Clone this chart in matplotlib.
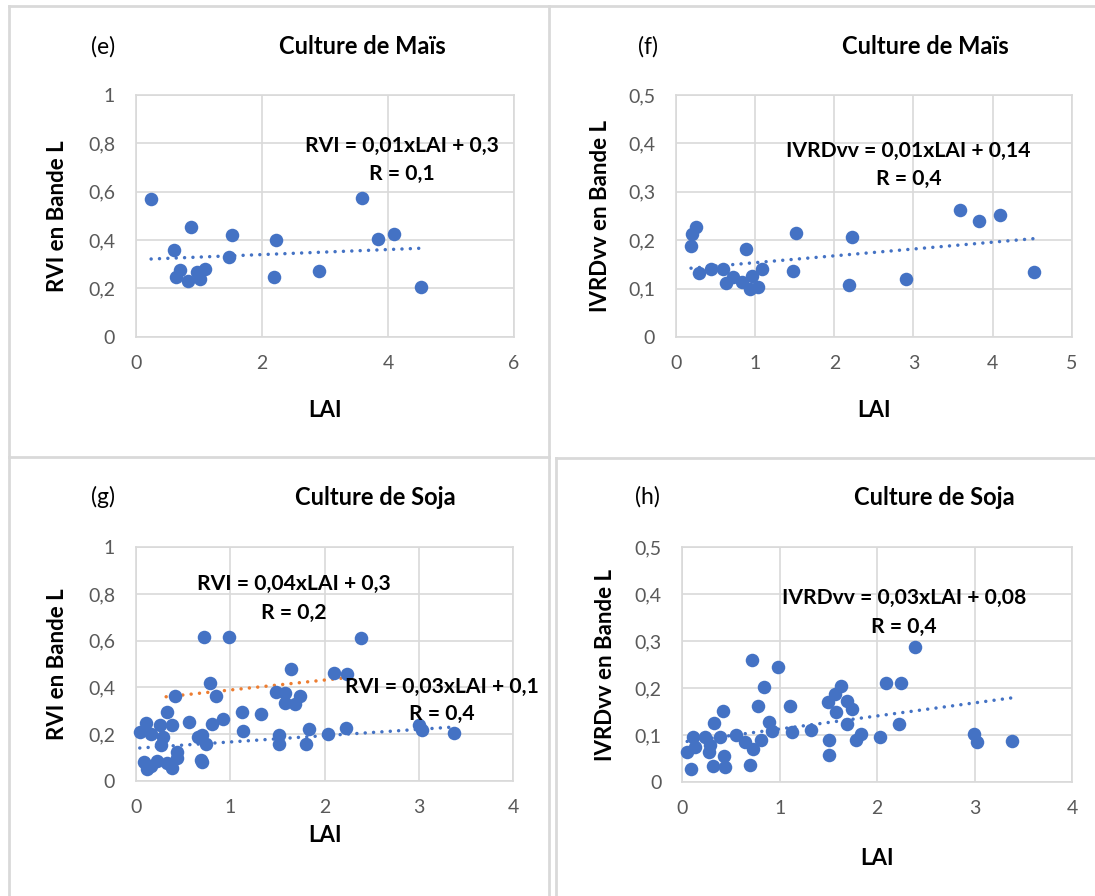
import matplotlib
matplotlib.use("Agg")
import matplotlib.pyplot as plt
from matplotlib.lines import Line2D
import numpy as np

plt.rcParams['font.family'] = ['Lato', 'DejaVu Sans']

W, H = 1095, 896

# ---- Maize (e, f) ----
e_lai = [0.24, 0.60, 0.63, 0.70, 0.82, 0.875, 0.97, 1.02, 1.10, 1.48, 1.53,
         2.19, 2.22, 2.91, 3.59, 3.84, 4.10, 4.53]
e_rvi = [0.570, 0.357, 0.247, 0.274, 0.229, 0.454, 0.268, 0.239, 0.279, 0.331,
         0.419, 0.247, 0.400, 0.272, 0.572, 0.406, 0.423, 0.204]

f_lai = [0.25, 0.20, 0.19, 0.29, 0.44, 0.60, 0.63, 0.716, 0.83, 0.885, 0.956,
         0.935, 1.03, 1.09, 1.52, 1.48, 2.22, 2.19, 2.90, 3.59, 3.83, 4.09, 4.52]
f_ivrd = [0.228, 0.213, 0.187, 0.132, 0.140, 0.141, 0.111, 0.123, 0.114, 0.182,
          0.125, 0.100, 0.103, 0.141, 0.214, 0.137, 0.206, 0.108, 0.120, 0.262,
          0.240, 0.252, 0.134]

# ---- Soybean (g, h) ----
g_lai = [0.72, 0.986, 2.39, 1.64, 2.10, 2.24, 0.78, 0.41, 0.845, 1.49, 1.58,
         1.74, 1.58, 1.69, 0.33, 1.12, 1.33, 0.565, 0.926, 0.81, 0.11, 0.04,
         0.155, 0.254, 0.378, 0.29, 0.27, 1.14, 0.66, 0.70, 0.74, 1.52, 1.52,
         1.84, 1.80, 2.035, 2.23, 3.00, 3.03, 3.37, 0.085, 0.12, 0.22, 0.33,
         0.378, 0.43, 0.43, 0.686, 0.70, 0.16]
g_rvi = [0.614, 0.614, 0.610, 0.477, 0.460, 0.456, 0.420, 0.364, 0.363, 0.381,
         0.377, 0.364, 0.334, 0.329, 0.296, 0.294, 0.284, 0.251, 0.266, 0.244,
         0.249, 0.210, 0.200, 0.239, 0.239, 0.186, 0.151, 0.214, 0.186, 0.194,
         0.157, 0.194, 0.157, 0.220, 0.159, 0.200, 0.227, 0.237, 0.217, 0.206,
         0.081, 0.049, 0.084, 0.074, 0.056, 0.096, 0.124, 0.089, 0.079, 0.065]

h_lai = [2.39, 0.715, 0.98, 2.09, 2.24, 0.835, 1.63, 1.57, 1.495, 1.69, 1.74,
         1.58, 1.69, 2.22, 0.773, 1.11, 0.414, 0.325, 0.89, 0.925, 1.13, 1.32,
         0.55, 1.83, 1.78, 2.03, 1.51, 1.505, 2.99, 3.03, 3.38, 0.113, 0.05,
         0.13, 0.23, 0.27, 0.285, 0.39, 0.43, 0.44, 0.32, 0.086, 0.70, 0.64,
         0.73, 0.81]
h_ivrd = [0.287, 0.260, 0.245, 0.211, 0.211, 0.203, 0.204, 0.187, 0.170, 0.172,
          0.156, 0.150, 0.123, 0.123, 0.163, 0.163, 0.152, 0.126, 0.128, 0.109,
          0.106, 0.111, 0.100, 0.103, 0.090, 0.097, 0.089, 0.058, 0.103, 0.086,
          0.088, 0.097, 0.065, 0.076, 0.097, 0.065, 0.079, 0.097, 0.055, 0.032,
          0.035, 0.028, 0.036, 0.085, 0.070, 0.089]

# linear trend coefficients (slope, intercept) and x extent
e_trend = (0.0104, 0.319)
f_trend = (0.0141, 0.1395)
g_trend = (0.027, 0.139)
g_trend_hi = (0.0426, 0.346)
g_trend_hi_range = [0.32, 2.34]
h_trend = (0.0278, 0.0856)

BLUE = '#4472C4'
ORANGE = '#ED7D31'
GRID = '#D9D9D9'
TICK = '#595959'

fig = plt.figure(figsize=(W / 100, H / 100), dpi=100)


def fx(px):
    return px / W


def fy(py):
    return 1 - py / H


def make_axes(x0, x1, y0, y1):
    return fig.add_axes([fx(x0), fy(y1), fx(x1) - fx(x0), fy(y0) - fy(y1)])


def comma(v, dec):
    if abs(v) < 1e-9:
        return '0'
    s = f'{v:.{dec}f}'.rstrip('0').rstrip('.')
    return s.replace('.', ',')


def style(ax, xmax, xstep, ymax, ystep, ydec, ylabel, ylab_x, xlab_y):
    ax.set_xlim(0, xmax)
    ax.set_ylim(0, ymax)
    xt = np.arange(0, xmax + 1e-9, xstep)
    yt = np.arange(0, ymax + 1e-9, ystep)
    ax.set_xticks(xt)
    ax.set_yticks(yt)
    ax.set_xticklabels([comma(v, 0) for v in xt])
    ax.set_yticklabels([comma(v, ydec) for v in yt])
    ax.tick_params(length=0, labelsize=14, colors=TICK, pad=13)
    ax.tick_params(axis='y', pad=15)
    ax.grid(True, color=GRID, lw=1.2)
    ax.set_axisbelow(True)
    for sp in ax.spines.values():
        sp.set_color(GRID)
        sp.set_linewidth(1.2)
    ax.set_ylabel(ylabel, fontsize=16, fontweight='bold')
    ax.yaxis.set_label_coords(ylab_x, 0.5)
    ax.set_xlabel('LAI', fontsize=16, fontweight='bold')
    ax.xaxis.set_label_coords(0.5, xlab_y)


def scatter(ax, x, y):
    ax.scatter(x, y, s=95, color=BLUE, zorder=3, linewidths=0, clip_on=False)


def trend(ax, coef, xs, color):
    xs = np.array([min(xs), max(xs)])
    ax.plot(xs, coef[0] * xs + coef[1], color=color, lw=2.5,
            linestyle=(0, (0.01, 2.4)), dash_capstyle='round', zorder=2)


def eq(px, py, txt):
    fig.text(fx(px), fy(py), txt, ha='center', va='center',
             fontsize=15.2, fontweight='bold')


# (e)
ax_e = make_axes(136, 514, 95, 336.7)
style(ax_e, 6, 2, 1.0, 0.2, 1, 'RVI en Bande L', -0.18, -0.262)
trend(ax_e, e_trend, e_lai, BLUE)
scatter(ax_e, e_lai, e_rvi)
eq(402, 146, 'RVI = 0,01xLAI + 0,3')
eq(402, 174, 'R = 0,1')

# (f)
ax_f = make_axes(676, 1071.7, 95, 337)
style(ax_f, 5, 1, 0.5, 0.1, 1, 'IVRDvv en Bande L', -0.165, -0.262)
trend(ax_f, f_trend, f_lai, BLUE)
scatter(ax_f, f_lai, f_ivrd)
eq(908, 151, 'IVRDvv = 0,01xLAI + 0,14')
eq(909, 179, 'R = 0,4')

# (g)
ax_g = make_axes(136, 513, 547.3, 780.7)
style(ax_g, 4, 1, 1.0, 0.2, 1, 'RVI en Bande L', -0.18, -0.19)
trend(ax_g, g_trend, g_lai, BLUE)
trend(ax_g, g_trend_hi, g_trend_hi_range, ORANGE)
scatter(ax_g, g_lai, g_rvi)
eq(294, 584, 'RVI = 0,04xLAI + 0,3')
eq(294, 613, 'R = 0,2')
eq(442, 687, 'RVI = 0,03xLAI + 0,1')
eq(442, 714, 'R = 0,4')

# (h)
ax_h = make_axes(682.3, 1072, 547.3, 782.3)
style(ax_h, 4, 1, 0.5, 0.1, 1, 'IVRDvv en Bande L', -0.171, -0.28)
trend(ax_h, h_trend, h_lai, BLUE)
scatter(ax_h, h_lai, h_ivrd)
eq(904, 598, 'IVRDvv = 0,03xLAI + 0,08')
eq(904, 627, 'R = 0,4')

# panel letters and titles
for px, py, s in [(103, 47, '(e)'), (648, 47, '(f)'),
                  (103, 497, '(g)'), (647, 497, '(h)')]:
    fig.text(fx(px), fy(py), s, ha='center', va='center', fontsize=16.5)
for px, py, s in [(362, 47, 'Culture de Maïs'), (925, 47, 'Culture de Maïs'),
                  (375, 497, 'Culture de Soja'), (934, 497, 'Culture de Soja')]:
    fig.text(fx(px), fy(py), s, ha='center', va='center', fontsize=17,
             fontweight='bold')

# panel frames
frame = dict(color=GRID, lw=2, transform=fig.transFigure)
segments = [
    ((9, 1095), (6, 6)),
    ((9, 9), (6, 896)),
    ((549, 549), (6, 896)),
    ((9, 549), (457, 457)),
    ((556, 1095), (458, 458)),
    ((556, 556), (458, 896)),
]
for (xa, xb), (ya, yb) in segments:
    fig.add_artist(Line2D([fx(xa), fx(xb)], [fy(ya), fy(yb)], **frame))

fig.savefig('out.png', dpi=100)
